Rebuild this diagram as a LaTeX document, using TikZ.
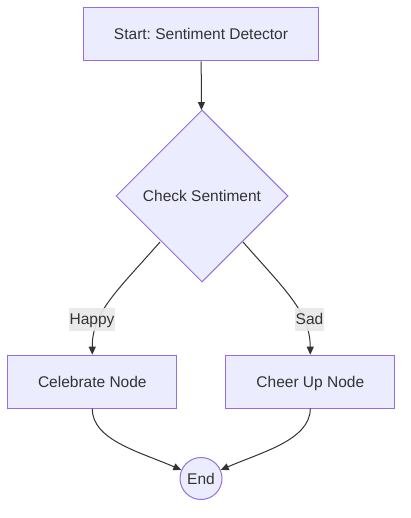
\documentclass[tikz,border=0pt]{standalone}
\usepackage{fontspec}
\setmainfont{Liberation Sans}
\frenchspacing
\usetikzlibrary{shapes.geometric,arrows.meta}
\definecolor{nodefill}{HTML}{ECECFF}
\definecolor{nodeborder}{HTML}{9370DB}
\definecolor{txt}{HTML}{333333}
\definecolor{lblbg}{HTML}{E8E8E8}
\tikzset{
  box/.style={draw=nodeborder, fill=nodefill, line width=1pt, text=txt, font=\fontsize{15.5}{18}\selectfont, inner sep=0pt, text height=11pt, text depth=0pt},
  edge/.style={draw=txt, line width=1pt, -{Triangle[length=8pt,width=7pt]}},
  lbl/.style={fill=lblbg, fill opacity=0.9, text opacity=1, text=txt, font=\fontsize{15.5}{18}\selectfont, inner xsep=1pt, inner ysep=0pt, minimum height=23pt, text height=11pt, text depth=0pt}
}
\begin{document}
\begin{tikzpicture}[x=1pt,y=-1pt]
\useasboundingbox (0,0) rectangle (410,518);
\node[box, rectangle, minimum width=235pt, minimum height=53pt] (start) at (201,34.5) {Start: Sentiment Detector};
\node[box, diamond, aspect=1, minimum width=172pt, minimum height=172pt] (check) at (202,196) {Check Sentiment};
\node[box, rectangle, minimum width=169pt, minimum height=53pt] (cel) at (92.3,381.7) {Celebrate Node};
\node[box, rectangle, minimum width=169pt, minimum height=53pt] (cheer) at (310.3,381.7) {Cheer Up Node};
\node[box, circle, minimum size=42pt] (end) at (201,478.5) {End};
\coordinate (hs) at (160,242);
\coordinate (ss) at (243,242);
\draw[edge] (start) -- (check);
\draw[edge] (hs) .. controls (118,290) and (92,312) .. (cel.north);
\draw[edge] (ss) .. controls (285,290) and (310,312) .. (cheer.north);
\node[lbl] (happy) at (92,319) {Happy};
\node[lbl] (sad) at (309.5,319) {Sad};
\draw[edge] (cel.south) .. controls (92,440) and (140,452) .. (end);
\draw[edge] (cheer.south) .. controls (310,440) and (262,452) .. (end);
\end{tikzpicture}
\end{document}
